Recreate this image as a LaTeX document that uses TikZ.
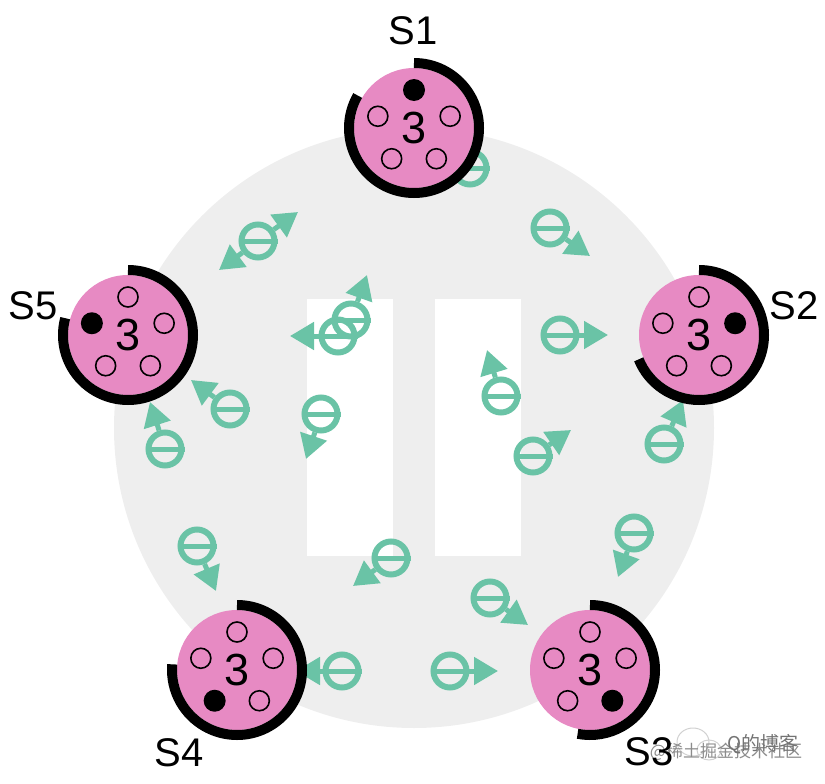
\documentclass[tikz,border=0pt]{standalone}
\usepackage{fontspec}
\setmainfont{Liberation Sans}
\newfontfamily\cjkwm{Noto Sans CJK SC}
\usetikzlibrary{arrows.meta,calc}
\definecolor{pinkc}{HTML}{E78AC3}
\definecolor{greenc}{HTML}{6AC3A6}
\definecolor{greyc}{HTML}{EEEEEE}
\tikzset{
 serverbox/.style={circle,fill=pinkc,minimum size=120pt,inner sep=0pt,font=\fontsize{45}{45}\selectfont},
 pinopen/.style={circle,draw=black,line width=1.6pt,minimum size=20pt,inner sep=0pt},
 pinfull/.style={circle,fill=black,minimum size=22pt,inner sep=0pt},
 ring/.style={line width=10pt,draw=black},
 msgbox/.style={circle,draw=greenc,line width=6pt,minimum size=33pt,inner sep=0pt},
 msgbar/.style={draw=greenc,line width=5pt},
 msgarrow/.style={draw=greenc,line width=5pt,-{Triangle[length=24pt,width=27pt,fill=greenc]}},
 lab/.style={font=\fontsize{40}{40}\selectfont,inner sep=0pt},
 wmicon/.style={draw=black!18,line width=1pt},
}
\newcommand{\srv}[4]{% name, pos, sweep end, black-pin index
 \node[serverbox] (#1) at (#2) {3};
 \draw[ring] ($(#1.center)+(0,-65)$) arc[start angle=90,end angle=#3,radius=65pt];
 \foreach \k in {0,...,4}{
  \pgfmathsetmacro{\ang}{90-72*\k}
  \pgfmathtruncatemacro{\isfull}{\k==#4 ? 1 : 0}
  \ifnum\isfull=1
   \node[pinfull] (#1p\k) at ($(#1.center)+(\ang:38pt)$) {};
  \else
   \node[pinopen] (#1p\k) at ($(#1.center)+(\ang:38pt)$) {};
  \fi
 }
}
\newcommand{\msg}[3]{% name, pos, tip
 \node[msgbox] (#1) at (#2) {};
 \draw[msgbar] (#1.west) -- (#1.east);
 \coordinate (#1t) at (#3);
 \draw[msgarrow] (#1) -- (#1t);
}
\begin{document}
\begin{tikzpicture}[x=1pt,y=-1pt]
\useasboundingbox (0,0) rectangle (825,784);
\fill[greyc] (414,428) circle[radius=300pt];
\fill[white] (307,299) rectangle (393,556);
\fill[white] (435,299) rectangle (521,556);
\msg{m1}{470,168}{440,145}
\msg{m2}{258,241}{298,212}
\coordinate (m2b) at (219,270);
\draw[msgarrow] (m2) -- (m2b);
\msg{m3}{351,320}{367,275}
\msg{m4}{338,336}{290,336}
\msg{m5}{550,228}{590,256}
\msg{m6}{560,335}{608,335}
\msg{m7}{501,396}{487,350}
\msg{m8}{533,456}{571,430}
\msg{m9}{664,444}{683,400}
\msg{m10}{634,533}{618,577}
\msg{m11}{490,598}{528,625}
\msg{m12}{450,671}{498,671}
\msg{m13}{342,671}{296,671}
\msg{m14}{391,558}{353,586}
\msg{m15}{197,546}{216,591}
\msg{m16}{165,449}{150,402}
\msg{m17}{230,409}{191,380}
\msg{m18}{321,414}{306,459}
\srv{s1}{414,128}{-210}{0}
\srv{s2}{699,335}{-158}{1}
\srv{s3}{590,670}{-101}{2}
\srv{s4}{237,670}{-185}{3}
\srv{s5}{128,335}{-195}{4}
\draw[wmicon] (693,742) ellipse[x radius=16pt,y radius=14pt];
\draw[wmicon] (709,750) ellipse[x radius=12pt,y radius=10pt];
\node[font=\cjkwm\fontsize{17}{17}\selectfont,text=black!45,inner sep=0pt] (w1) at (726,752) {@稀土掘金技术社区};
\node[font=\cjkwm\fontsize{19}{19}\selectfont,text=black!55,inner sep=0pt] (w2) at (763,744) {Q的博客};
\node[lab] (l1) at (413,31) {S1};
\node[lab] (l2) at (794,306) {S2};
\node[lab] (l3) at (649,752) {S3};
\node[lab] (l4) at (179,753) {S4};
\node[lab] (l5) at (33,306) {S5};
\end{tikzpicture}
\end{document}
